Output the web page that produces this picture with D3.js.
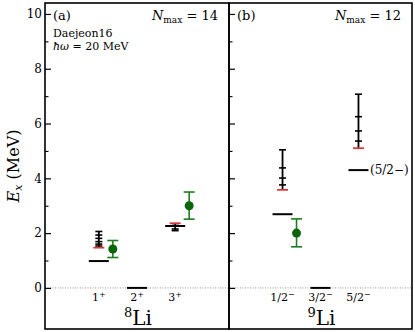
<!DOCTYPE html>
<html>
<head>
<meta charset="utf-8">
<script src="https://cdn.jsdelivr.net/npm/d3@7"></script>
<style>
    body { margin: 0; background: #fff; }
    text { font-family: "DejaVu Serif", serif; fill: #000; }
</style>
</head>
<body>
<svg id="chart" width="415" height="332"></svg>
<script>
// 8Li: states, experiment, NCSM extrapolations (black ticks + red line), other calc (green)
const li8States = [["1", "+"], ["2", "+"], ["3", "+"]]
const li8Exp = [0.98, 0.0, 2.26]
const li8Ticks = [[2.06, 1.93, 1.81, 1.69, 1.60, 1.53], [], [2.28, 2.15, 2.09]]
const li8Red = [1.47, null, 2.36]
const li8Green = [[1.42, 1.11, 1.73], null, [3.00, 2.51, 3.50]]

// 9Li
const li9States = [["1/2", "−"], ["3/2", "−"], ["5/2", "−"]]
const li9Exp = [2.69, 0.0, 4.30]
const li9Ticks = [[5.04, 4.38, 4.01, 3.76], [], [7.07, 6.25, 5.73, 5.36]]
const li9Red = [3.58, null, 5.10]
const li9Green = [[2.00, 1.50, 2.52], null, null]

const yMajor = [0, 2, 4, 6, 8, 10]
const yMinor = [1, 3, 5, 7, 9]

const TOP = 3, BOTTOM = 329
const svg = d3.select("#chart")

const yScale = d3.scaleLinear().domain([-1.5, 10.4]).range([BOTTOM, TOP])

const panels = [
    {left: 45, right: 229, states: li8States, exp: li8Exp, ticks: li8Ticks, red: li8Red, green: li8Green,
        tag: "(a)", nmax: "14", mass: "8", labels: true},
    {left: 229, right: 412, states: li9States, exp: li9Exp, ticks: li9Ticks, red: li9Red, green: li9Green,
        tag: "(b)", nmax: "12", mass: "9", labels: false}
]

// zero line across both panels
svg.append("line")
    .attr("x1", 45).attr("x2", 412)
    .attr("y1", yScale(0)).attr("y2", yScale(0))
    .attr("stroke", "#999")
    .attr("stroke-width", 1)
    .attr("stroke-dasharray", "1,1.5")

panels.forEach(function (p) {
    const xScale = d3.scaleLinear().domain([-1.41, 3.41]).range([p.left, p.right])

    // major ticks (inward)
    const major = svg.append("g")
        .attr("transform", `translate(${p.left},0)`)
        .call(d3.axisLeft(yScale).tickValues(yMajor).tickSize(-6).tickPadding(3)
            .tickFormat(p.labels ? d3.format("d") : ""))
    major.select(".domain").remove()
    major.selectAll("line").attr("stroke-width", 1.2)
    major.selectAll("text").style("font-size", "12px").style("font-family", "DejaVu Serif")

    const minor = svg.append("g")
        .attr("transform", `translate(${p.left},0)`)
        .call(d3.axisLeft(yScale).tickValues(yMinor).tickSize(-3.5).tickFormat(""))
    minor.select(".domain").remove()
    minor.selectAll("line").attr("stroke-width", 1.1)

    p.states.forEach(function (s, i) {
        const cx = xScale(i)

        // experimental level
        svg.append("line")
            .attr("x1", cx - 10).attr("x2", cx + 10)
            .attr("y1", yScale(p.exp[i])).attr("y2", yScale(p.exp[i]))
            .attr("stroke", "#000").attr("stroke-width", 2)

        // extrapolated values
        const t = p.ticks[i]
        if (t.length > 0) {
            const all = t.concat(p.red[i] == null ? [] : [p.red[i]])
            svg.append("line")
                .attr("x1", cx).attr("x2", cx)
                .attr("y1", yScale(d3.max(all))).attr("y2", yScale(d3.min(all)))
                .attr("stroke", "#000").attr("stroke-width", 1.8)
            t.forEach(function (v) {
                svg.append("line")
                    .attr("x1", cx - 3.5).attr("x2", cx + 3.5)
                    .attr("y1", yScale(v)).attr("y2", yScale(v))
                    .attr("stroke", "#000").attr("stroke-width", 1.6)
            })
        }
        if (p.red[i] != null) {
            svg.append("line")
                .attr("x1", cx - 5.5).attr("x2", cx + 5.5)
                .attr("y1", yScale(p.red[i])).attr("y2", yScale(p.red[i]))
                .attr("stroke", "#d9383a").attr("stroke-width", 1.8)
        }

        // green point with error bar
        const g = p.green[i]
        if (g) {
            const gx = cx + 14
            svg.append("line")
                .attr("x1", gx).attr("x2", gx)
                .attr("y1", yScale(g[2])).attr("y2", yScale(g[1]))
                .attr("stroke", "#1f7d1f").attr("stroke-width", 1.6)
            ;[g[1], g[2]].forEach(function (v) {
                svg.append("line")
                    .attr("x1", gx - 5.5).attr("x2", gx + 5.5)
                    .attr("y1", yScale(v)).attr("y2", yScale(v))
                    .attr("stroke", "#1f7d1f").attr("stroke-width", 1.6)
            })
            svg.append("circle")
                .attr("cx", gx).attr("cy", yScale(g[0]))
                .attr("r", 4.5)
                .attr("fill", "#0b650b")
        }

        // state label
        const lab = svg.append("text")
            .attr("x", cx).attr("y", 301)
            .attr("text-anchor", "middle")
            .style("font-size", "11px")
        lab.append("tspan").text(s[0])
        lab.append("tspan").attr("dy", -4).style("font-size", "8px").text(s[1])
    })

    // nucleus label
    const nuc = svg.append("text")
        .attr("x", xScale(1) + 1).attr("y", 325)
        .attr("text-anchor", "middle")
        .style("font-size", "20px")
    nuc.append("tspan").attr("dy", -8).style("font-size", "13px").text(p.mass)
    nuc.append("tspan").attr("dy", 8).text("Li")

    // panel tag
    svg.append("text")
        .attr("x", p.left + 8).attr("y", 20)
        .style("font-size", "13px")
        .text(p.tag)

    // Nmax
    const nm = svg.append("text")
        .attr("x", p.right - 11).attr("y", 20)
        .attr("text-anchor", "end")
        .style("font-size", "13px")
    nm.append("tspan").style("font-style", "italic").text("N")
    nm.append("tspan").attr("dy", 3).style("font-size", "9px").text("max")
    nm.append("tspan").attr("dy", -3).text(" = " + p.nmax)

    // frame
    svg.append("rect")
        .attr("x", p.left).attr("y", TOP)
        .attr("width", p.right - p.left).attr("height", BOTTOM - TOP)
        .attr("fill", "none")
        .attr("stroke", "#000")
        .attr("stroke-width", 1.6)
})

// interaction note in panel (a)
svg.append("text")
    .attr("x", 53).attr("y", 37)
    .style("font-size", "11px")
    .text("Daejeon16")
const hw = svg.append("text")
    .attr("x", 53).attr("y", 50)
    .style("font-size", "11px")
hw.append("tspan").style("font-style", "italic").text("ħω")
hw.append("tspan").text(" = 20 MeV")

// tentative assignment for 9Li 5/2-
svg.append("text")
    .attr("x", 370).attr("y", yScale(li9Exp[2]) + 4)
    .style("font-size", "12px")
    .text("(5/2−)")

// y label
const yl = svg.append("text")
    .attr("transform", `translate(19,${(TOP + BOTTOM) / 2}) rotate(-90)`)
    .attr("text-anchor", "middle")
    .style("font-size", "16px")
yl.append("tspan").style("font-style", "italic").text("E")
yl.append("tspan").attr("dy", 3).style("font-size", "11px").style("font-style", "italic").text("x")
yl.append("tspan").attr("dy", -3).text(" (MeV)")
</script>
</body>
</html>
